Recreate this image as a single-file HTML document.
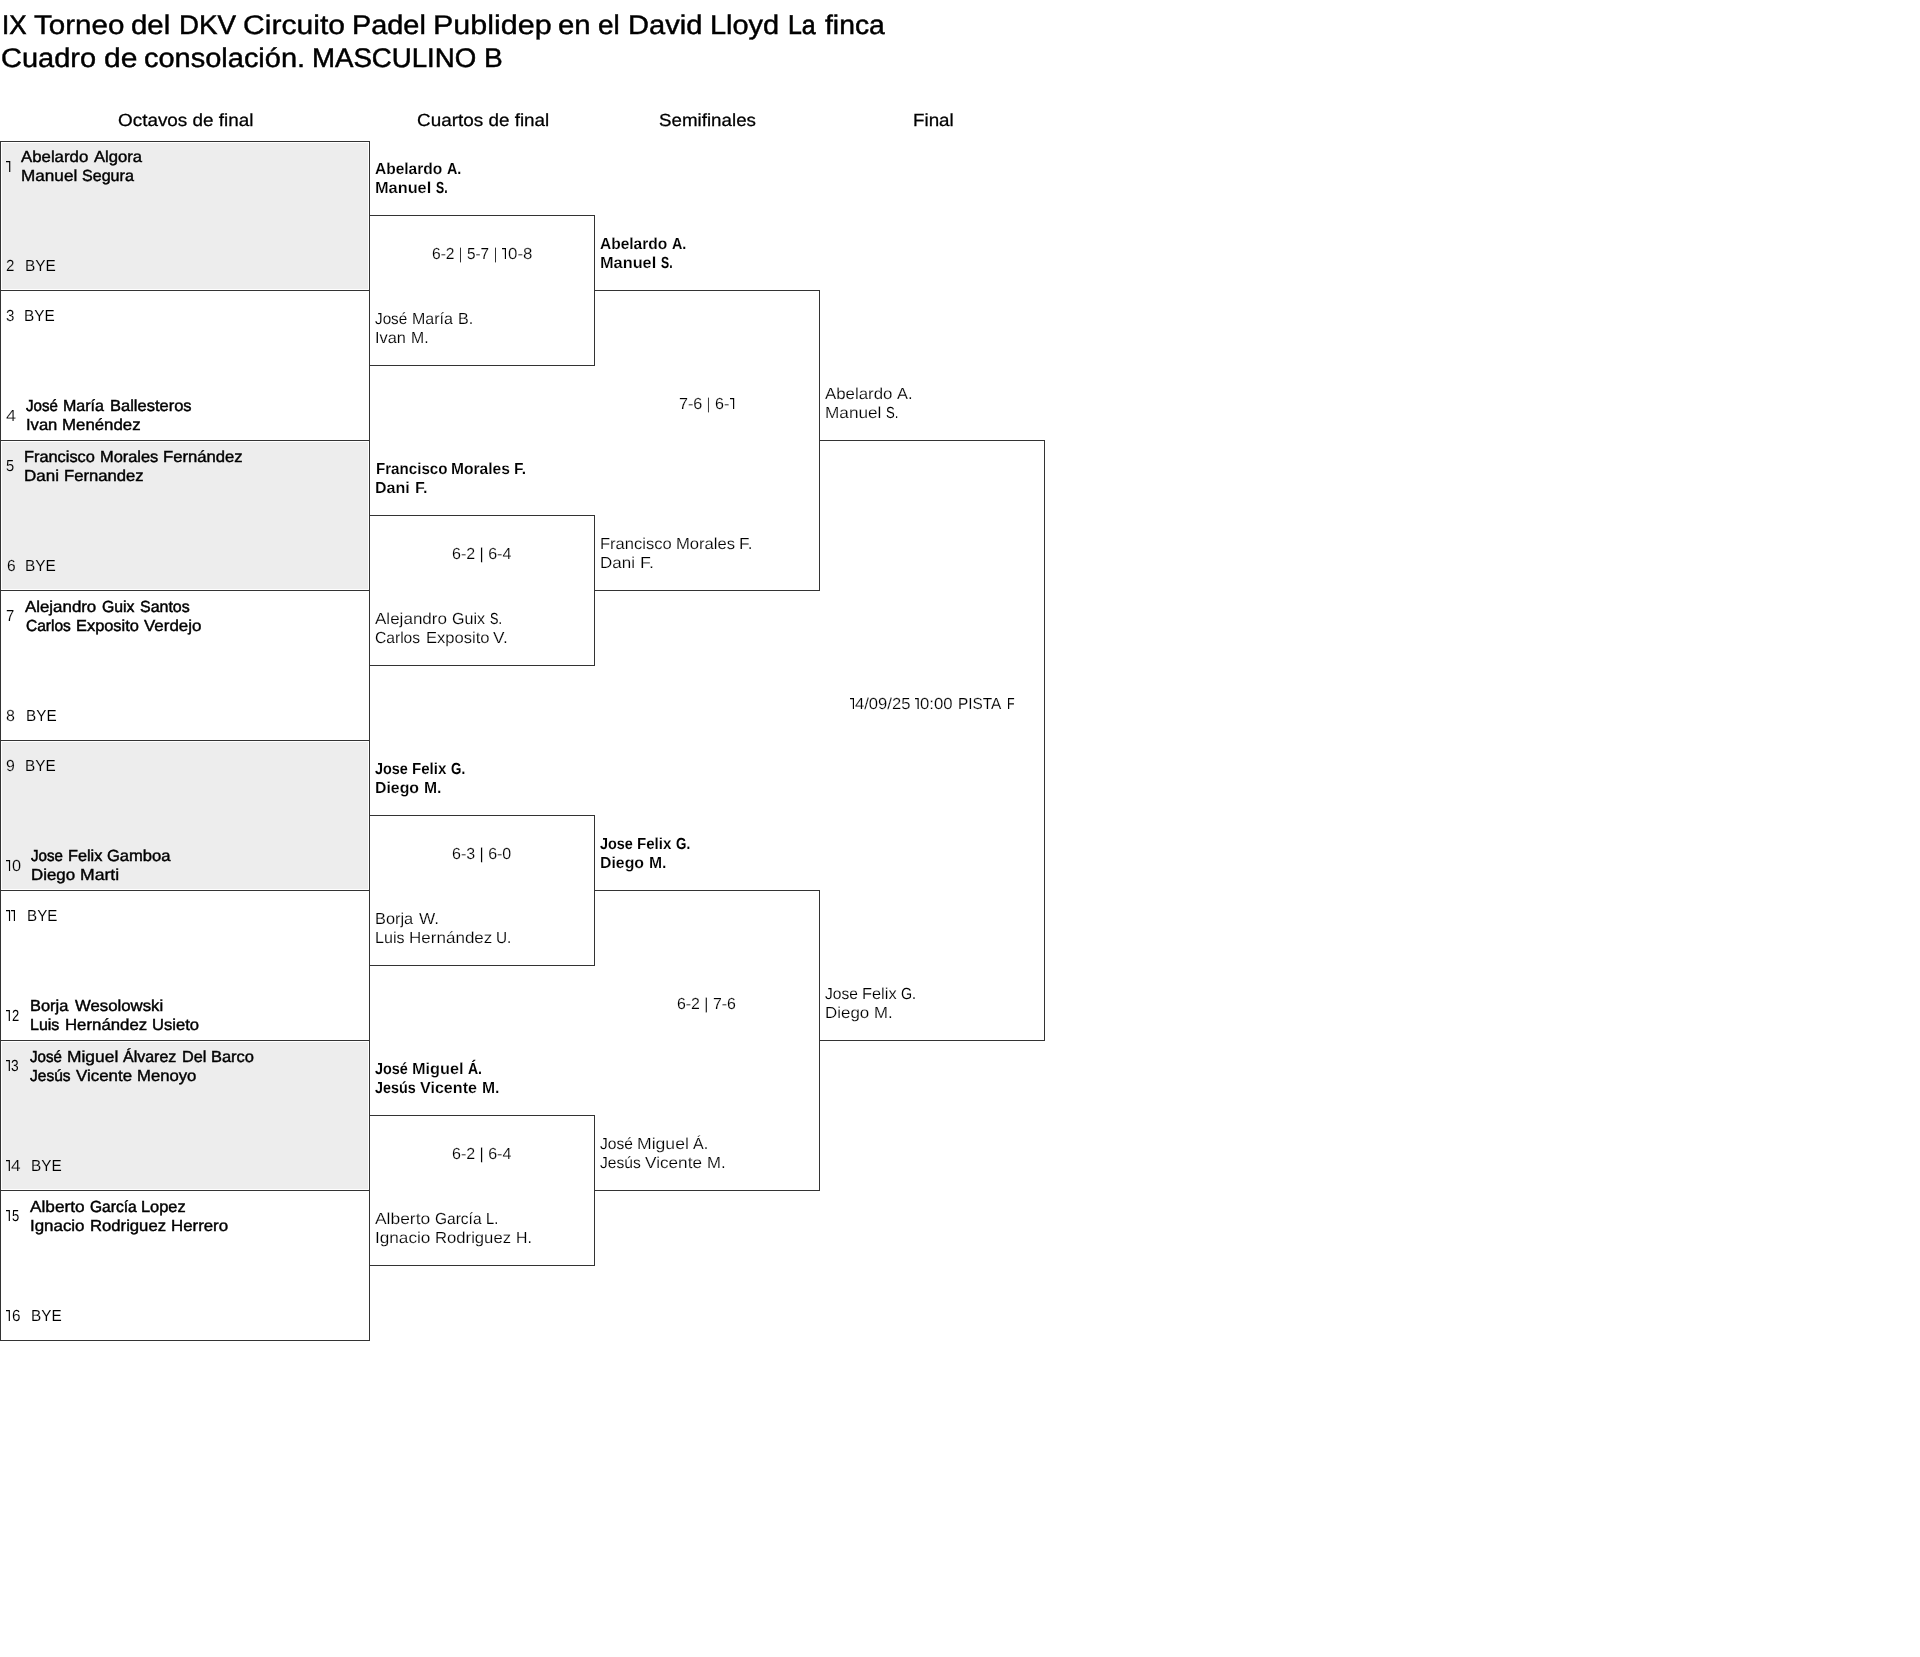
<!DOCTYPE html>
<html lang="es">
<head>
<meta charset="utf-8">
<title>Cuadro de consolación. MASCULINO B</title>
<style>
html,body{margin:0;padding:0;background:#fff;}
body{width:1920px;height:1657px;position:relative;overflow:hidden;font-family:"Liberation Sans",sans-serif;color:#000;}
.g{position:absolute;background:#ededed;}
.h{position:absolute;height:1px;background:#333;}
.v{position:absolute;width:1px;background:#333;}
#tx{position:absolute;left:0;top:0;width:1920px;height:1657px;will-change:transform;}
.x{position:absolute;white-space:nowrap;line-height:1;transform-origin:0 0;text-rendering:geometricPrecision;color:#000;}
.t{font-size:27px;}
.hd{font-size:17.5px;}
.n{font-size:16px;}
.b{font-weight:700;}
.o{position:absolute;overflow:visible;}
</style>
</head>
<body>
<div class="g" style="left:2px;top:143px;width:366px;height:146px"></div>
<div class="g" style="left:2px;top:442px;width:366px;height:147px"></div>
<div class="g" style="left:2px;top:742px;width:366px;height:147px"></div>
<div class="g" style="left:2px;top:1042px;width:366px;height:147px"></div>
<div class="h" style="left:0;top:141px;width:370px"></div>
<div class="h" style="left:0;top:290px;width:370px"></div>
<div class="h" style="left:0;top:440px;width:370px"></div>
<div class="h" style="left:0;top:590px;width:370px"></div>
<div class="h" style="left:0;top:740px;width:370px"></div>
<div class="h" style="left:0;top:890px;width:370px"></div>
<div class="h" style="left:0;top:1040px;width:370px"></div>
<div class="h" style="left:0;top:1190px;width:370px"></div>
<div class="h" style="left:0;top:1340px;width:370px"></div>
<div class="v" style="left:0;top:141px;height:1200px"></div>
<div class="v" style="left:369px;top:141px;height:1200px"></div>
<div class="h" style="left:369px;top:215px;width:226px"></div>
<div class="h" style="left:369px;top:365px;width:226px"></div>
<div class="v" style="left:594px;top:215px;height:151px"></div>
<div class="h" style="left:369px;top:515px;width:226px"></div>
<div class="h" style="left:369px;top:665px;width:226px"></div>
<div class="v" style="left:594px;top:515px;height:151px"></div>
<div class="h" style="left:369px;top:815px;width:226px"></div>
<div class="h" style="left:369px;top:965px;width:226px"></div>
<div class="v" style="left:594px;top:815px;height:151px"></div>
<div class="h" style="left:369px;top:1115px;width:226px"></div>
<div class="h" style="left:369px;top:1265px;width:226px"></div>
<div class="v" style="left:594px;top:1115px;height:151px"></div>
<div class="h" style="left:594px;top:290px;width:226px"></div>
<div class="h" style="left:594px;top:590px;width:226px"></div>
<div class="v" style="left:819px;top:290px;height:301px"></div>
<div class="h" style="left:594px;top:890px;width:226px"></div>
<div class="h" style="left:594px;top:1190px;width:226px"></div>
<div class="v" style="left:819px;top:890px;height:301px"></div>
<div class="h" style="left:819px;top:440px;width:226px"></div>
<div class="h" style="left:819px;top:1040px;width:226px"></div>
<div class="v" style="left:1044px;top:440px;height:601px"></div>
<div id="tx">
<div class="x t" style="left:1.76px;top:12px;-webkit-text-stroke:0.59px #000;transform:scaleX(0.9630)">IX</div>
<div class="x t" style="left:33.83px;top:12px;-webkit-text-stroke:0.42px #000;transform:scaleX(1.0956)">Torneo</div>
<div class="x t" style="left:131.14px;top:12px;-webkit-text-stroke:0.42px #000;transform:scaleX(1.0884)">del</div>
<div class="x t" style="left:178.71px;top:12px;-webkit-text-stroke:0.51px #000;transform:scaleX(1.0274)">DKV</div>
<div class="x t" style="left:242.91px;top:12px;-webkit-text-stroke:0.40px #000;transform:scaleX(1.1156)">Circuito</div>
<div class="x t" style="left:351.51px;top:12px;-webkit-text-stroke:0.46px #000;transform:scaleX(1.0689)">Padel</div>
<div class="x t" style="left:432.66px;top:12px;-webkit-text-stroke:0.38px #000;transform:scaleX(1.1303)">Publidep</div>
<div class="x t" style="left:558.24px;top:12px;-webkit-text-stroke:0.42px #000;transform:scaleX(1.0866)">en</div>
<div class="x t" style="left:598.11px;top:12px;-webkit-text-stroke:0.48px #000;transform:scaleX(1.0363)">el</div>
<div class="x t" style="left:628.09px;top:12px;-webkit-text-stroke:0.45px #000;transform:scaleX(1.0773)">David</div>
<div class="x t" style="left:709.80px;top:12px;-webkit-text-stroke:0.45px #000;transform:scaleX(1.0712)">Lloyd</div>
<div class="x t" style="left:787.57px;top:12px;-webkit-text-stroke:0.67px #000;transform:scaleX(0.9197)">La</div>
<div class="x t" style="left:825.25px;top:12px;-webkit-text-stroke:0.49px #000;transform:scaleX(1.0478)">finca</div>
<div class="x t" style="left:1.07px;top:45px;-webkit-text-stroke:0.45px #000;transform:scaleX(1.0737)">Cuadro</div>
<div class="x t" style="left:103.50px;top:45px;-webkit-text-stroke:0.39px #000;transform:scaleX(1.1124)">de</div>
<div class="x t" style="left:143.67px;top:45px;-webkit-text-stroke:0.46px #000;transform:scaleX(1.0733)">consolación.</div>
<div class="x t" style="left:311.82px;top:45px;-webkit-text-stroke:0.53px #000;transform:scaleX(1.0231)">MASCULINO</div>
<div class="x t" style="left:483.66px;top:45px;-webkit-text-stroke:0.46px #000;transform:scaleX(1.0413)">B</div>
<div class="x hd" style="left:117.84px;top:112px;-webkit-text-stroke:0.26px #000;transform:scaleX(1.0796)">Octavos de final</div>
<div class="x hd" style="left:416.84px;top:112px;-webkit-text-stroke:0.26px #000;transform:scaleX(1.0792)">Cuartos de final</div>
<div class="x hd" style="left:659.34px;top:112px;-webkit-text-stroke:0.27px #000;transform:scaleX(1.0717)">Semifinales</div>
<div class="x hd" style="left:912.87px;top:112px;-webkit-text-stroke:0.26px #000;transform:scaleX(1.0742)">Final</div>
<div class="x n" style="left:5.86px;top:259px;-webkit-text-stroke:0.09px #ededed;transform:scaleX(0.9423)">2</div>
<div class="x n" style="left:5.86px;top:309px;-webkit-text-stroke:0.09px #fff;transform:scaleX(0.9423)">3</div>
<div class="x n" style="left:5.98px;top:409px;-webkit-text-stroke:0.20px #fff;transform:scaleX(1.1368)">4</div>
<div class="x n" style="left:6.07px;top:459px;-webkit-text-stroke:0.07px #ededed;transform:scaleX(0.9180)">5</div>
<div class="x n" style="left:6.55px;top:559px;-webkit-text-stroke:0.10px #ededed;transform:scaleX(0.9666)">6</div>
<div class="x n" style="left:5.96px;top:609px;-webkit-text-stroke:0.08px #fff;transform:scaleX(0.9302)">7</div>
<div class="x n" style="left:6.24px;top:709px;-webkit-text-stroke:0.13px #fff;transform:scaleX(1.0030)">8</div>
<div class="x n" style="left:5.84px;top:759px;-webkit-text-stroke:0.12px #ededed;transform:scaleX(0.9909)">9</div>
<div class="x n" style="left:11.83px;top:859px;-webkit-text-stroke:0.13px #ededed;transform:scaleX(1.0152)">0</div>
<div class="x n" style="left:11.91px;top:1009px;transform:scaleX(0.8089)">2</div>
<div class="x n" style="left:11.29px;top:1059px;transform:scaleX(0.8574)">3</div>
<div class="x n" style="left:11.41px;top:1159px;-webkit-text-stroke:0.17px #ededed;transform:scaleX(1.0760)">4</div>
<div class="x n" style="left:11.91px;top:1209px;transform:scaleX(0.8089)">5</div>
<div class="x n" style="left:11.95px;top:1309px;-webkit-text-stroke:0.09px #fff;transform:scaleX(0.9545)">6</div>
<div class="x n" style="left:24.98px;top:259px;-webkit-text-stroke:0.11px #ededed;transform:scaleX(0.9657)">BYE</div>
<div class="x n" style="left:24.09px;top:309px;-webkit-text-stroke:0.10px #fff;transform:scaleX(0.9590)">BYE</div>
<div class="x n" style="left:24.98px;top:559px;-webkit-text-stroke:0.11px #ededed;transform:scaleX(0.9657)">BYE</div>
<div class="x n" style="left:26.20px;top:709px;-webkit-text-stroke:0.10px #fff;transform:scaleX(0.9556)">BYE</div>
<div class="x n" style="left:25.19px;top:759px;-webkit-text-stroke:0.10px #ededed;transform:scaleX(0.9590)">BYE</div>
<div class="x n" style="left:27.31px;top:909px;-webkit-text-stroke:0.10px #fff;transform:scaleX(0.9488)">BYE</div>
<div class="x n" style="left:31.09px;top:1159px;-webkit-text-stroke:0.10px #ededed;transform:scaleX(0.9590)">BYE</div>
<div class="x n" style="left:31.09px;top:1309px;-webkit-text-stroke:0.10px #fff;transform:scaleX(0.9590)">BYE</div>
<div class="x n" style="left:21.42px;top:150px;-webkit-text-stroke:0.42px #000;transform:scaleX(1.0500)">Abelardo</div>
<div class="x n" style="left:93.72px;top:150px;-webkit-text-stroke:0.43px #000;transform:scaleX(1.0367)">Algora</div>
<div class="x n" style="left:21.14px;top:169px;-webkit-text-stroke:0.40px #000;transform:scaleX(1.0716)">Manuel</div>
<div class="x n" style="left:82.03px;top:169px;-webkit-text-stroke:0.46px #000;transform:scaleX(1.0046)">Segura</div>
<div class="x n" style="left:26.25px;top:399px;-webkit-text-stroke:0.52px #000;transform:scaleX(0.9443)">José</div>
<div class="x n" style="left:63.23px;top:399px;-webkit-text-stroke:0.46px #000;transform:scaleX(1.0009)">María</div>
<div class="x n" style="left:109.70px;top:399px;-webkit-text-stroke:0.44px #000;transform:scaleX(1.0307)">Ballesteros</div>
<div class="x n" style="left:26.39px;top:418px;-webkit-text-stroke:0.43px #000;transform:scaleX(1.0357)">Ivan</div>
<div class="x n" style="left:62.17px;top:418px;-webkit-text-stroke:0.42px #000;transform:scaleX(1.0521)">Menéndez</div>
<div class="x n" style="left:24.46px;top:450px;-webkit-text-stroke:0.45px #000;transform:scaleX(1.0210)">Francisco</div>
<div class="x n" style="left:100.20px;top:450px;-webkit-text-stroke:0.44px #000;transform:scaleX(1.0248)">Morales</div>
<div class="x n" style="left:163.18px;top:450px;-webkit-text-stroke:0.43px #000;transform:scaleX(1.0418)">Fernández</div>
<div class="x n" style="left:24.40px;top:469px;-webkit-text-stroke:0.41px #000;transform:scaleX(1.0627)">Dani</div>
<div class="x n" style="left:63.93px;top:469px;-webkit-text-stroke:0.43px #000;transform:scaleX(1.0405)">Fernandez</div>
<div class="x n" style="left:25.42px;top:600px;-webkit-text-stroke:0.42px #000;transform:scaleX(1.0540)">Alejandro</div>
<div class="x n" style="left:102.23px;top:600px;-webkit-text-stroke:0.47px #000;transform:scaleX(0.9889)">Guix</div>
<div class="x n" style="left:140.03px;top:600px;-webkit-text-stroke:0.47px #000;transform:scaleX(0.9984)">Santos</div>
<div class="x n" style="left:25.94px;top:619px;-webkit-text-stroke:0.50px #000;transform:scaleX(0.9694)">Carlos</div>
<div class="x n" style="left:76.00px;top:619px;-webkit-text-stroke:0.45px #000;transform:scaleX(1.0244)">Exposito</div>
<div class="x n" style="left:143.72px;top:619px;-webkit-text-stroke:0.41px #000;transform:scaleX(1.0588)">Verdejo</div>
<div class="x n" style="left:31.25px;top:849px;-webkit-text-stroke:0.52px #000;transform:scaleX(0.9443)">Jose</div>
<div class="x n" style="left:68.21px;top:849px;-webkit-text-stroke:0.45px #000;transform:scaleX(1.0172)">Felix</div>
<div class="x n" style="left:107.23px;top:849px;-webkit-text-stroke:0.44px #000;transform:scaleX(1.0338)">Gamboa</div>
<div class="x n" style="left:31.17px;top:868px;-webkit-text-stroke:0.42px #000;transform:scaleX(1.0527)">Diego</div>
<div class="x n" style="left:80.31px;top:868px;-webkit-text-stroke:0.38px #000;transform:scaleX(1.0996)">Marti</div>
<div class="x n" style="left:30.40px;top:999px;-webkit-text-stroke:0.44px #000;transform:scaleX(1.0246)">Borja</div>
<div class="x n" style="left:74.72px;top:999px;-webkit-text-stroke:0.43px #000;transform:scaleX(1.0471)">Wesolowski</div>
<div class="x n" style="left:30.43px;top:1018px;-webkit-text-stroke:0.46px #000;transform:scaleX(0.9996)">Luis</div>
<div class="x n" style="left:64.67px;top:1018px;-webkit-text-stroke:0.42px #000;transform:scaleX(1.0489)">Hernández</div>
<div class="x n" style="left:151.69px;top:1018px;-webkit-text-stroke:0.43px #000;transform:scaleX(1.0360)">Usieto</div>
<div class="x n" style="left:30.25px;top:1050px;-webkit-text-stroke:0.52px #000;transform:scaleX(0.9443)">José</div>
<div class="x n" style="left:67.22px;top:1050px;-webkit-text-stroke:0.39px #000;transform:scaleX(1.0878)">Miguel</div>
<div class="x n" style="left:123.33px;top:1050px;-webkit-text-stroke:0.47px #000;transform:scaleX(0.9996)">Álvarez</div>
<div class="x n" style="left:181.96px;top:1050px;-webkit-text-stroke:0.44px #000;transform:scaleX(1.0155)">Del</div>
<div class="x n" style="left:211.10px;top:1050px;-webkit-text-stroke:0.44px #000;transform:scaleX(1.0281)">Barco</div>
<div class="x n" style="left:30.24px;top:1069px;-webkit-text-stroke:0.50px #000;transform:scaleX(0.9694)">Jesús</div>
<div class="x n" style="left:75.82px;top:1069px;-webkit-text-stroke:0.42px #000;transform:scaleX(1.0570)">Vicente</div>
<div class="x n" style="left:137.28px;top:1069px;-webkit-text-stroke:0.43px #000;transform:scaleX(1.0416)">Menoyo</div>
<div class="x n" style="left:30.31px;top:1200px;-webkit-text-stroke:0.40px #000;transform:scaleX(1.0763)">Alberto</div>
<div class="x n" style="left:89.94px;top:1200px;-webkit-text-stroke:0.50px #000;transform:scaleX(0.9709)">García</div>
<div class="x n" style="left:141.20px;top:1200px;-webkit-text-stroke:0.44px #000;transform:scaleX(1.0247)">Lopez</div>
<div class="x n" style="left:30.36px;top:1219px;-webkit-text-stroke:0.42px #000;transform:scaleX(1.0565)">Ignacio</div>
<div class="x n" style="left:89.98px;top:1219px;-webkit-text-stroke:0.43px #000;transform:scaleX(1.0420)">Rodriguez</div>
<div class="x n" style="left:170.97px;top:1219px;-webkit-text-stroke:0.42px #000;transform:scaleX(1.0529)">Herrero</div>
<div class="x n b" style="left:375.13px;top:162px;-webkit-text-stroke:0.14px #fff;transform:scaleX(0.9693)">Abelardo</div>
<div class="x n b" style="left:447.08px;top:162px;-webkit-text-stroke:0.05px #fff;transform:scaleX(0.8963)">A.</div>
<div class="x n b" style="left:375.13px;top:181px;-webkit-text-stroke:0.19px #fff;transform:scaleX(1.0199)">Manuel</div>
<div class="x n b" style="left:436.27px;top:181px;-webkit-text-stroke:0.05px #000;transform:scaleX(0.7641)">S.</div>
<div class="x n" style="left:431.55px;top:247px;-webkit-text-stroke:0.11px #fff;transform:scaleX(0.9734)">6-2</div>
<div class="x n" style="left:459.04px;top:247px;-webkit-text-stroke:0.08px #fff;transform:scaleX(0.7310)">|</div>
<div class="x n" style="left:466.95px;top:247px;-webkit-text-stroke:0.10px #fff;transform:scaleX(0.9556)">5-7</div>
<div class="x n" style="left:494.04px;top:247px;-webkit-text-stroke:0.08px #fff;transform:scaleX(0.7310)">|</div>
<div class="x n" style="left:507.51px;top:247px;-webkit-text-stroke:0.17px #fff;transform:scaleX(1.0537)">0-8</div>
<div class="x n" style="left:374.95px;top:312px;-webkit-text-stroke:0.10px #fff;transform:scaleX(0.9542)">José</div>
<div class="x n" style="left:412.24px;top:312px;-webkit-text-stroke:0.13px #fff;transform:scaleX(0.9983)">María</div>
<div class="x n" style="left:458.13px;top:312px;-webkit-text-stroke:0.13px #fff;transform:scaleX(1.0047)">B.</div>
<div class="x n" style="left:375.16px;top:331px;-webkit-text-stroke:0.14px #fff;transform:scaleX(1.0195)">Ivan</div>
<div class="x n" style="left:411.05px;top:331px;-webkit-text-stroke:0.12px #fff;transform:scaleX(0.9863)">M.</div>
<div class="x n b" style="left:375.50px;top:462px;-webkit-text-stroke:0.11px #fff;transform:scaleX(0.9451)">Francisco</div>
<div class="x n b" style="left:451.06px;top:462px;-webkit-text-stroke:0.14px #fff;transform:scaleX(0.9743)">Morales</div>
<div class="x n b" style="left:514.36px;top:462px;-webkit-text-stroke:0.13px #fff;transform:scaleX(0.9753)">F.</div>
<div class="x n b" style="left:375.42px;top:481px;-webkit-text-stroke:0.17px #fff;transform:scaleX(1.0012)">Dani</div>
<div class="x n b" style="left:414.91px;top:481px;-webkit-text-stroke:0.16px #fff;transform:scaleX(1.0056)">F.</div>
<div class="x n" style="left:451.93px;top:547px;-webkit-text-stroke:0.13px #fff;transform:scaleX(1.0006)">6-2 | 6-4</div>
<div class="x n" style="left:375.11px;top:612px;-webkit-text-stroke:0.17px #fff;transform:scaleX(1.0647)">Alejandro</div>
<div class="x n" style="left:451.63px;top:612px;-webkit-text-stroke:0.13px #fff;transform:scaleX(1.0042)">Guix</div>
<div class="x n" style="left:489.62px;top:612px;-webkit-text-stroke:0.05px #000;transform:scaleX(0.7873)">S.</div>
<div class="x n" style="left:375.34px;top:631px;-webkit-text-stroke:0.12px #fff;transform:scaleX(0.9757)">Carlos</div>
<div class="x n" style="left:425.58px;top:631px;-webkit-text-stroke:0.16px #fff;transform:scaleX(1.0363)">Exposito</div>
<div class="x n" style="left:493.21px;top:631px;-webkit-text-stroke:0.17px #fff;transform:scaleX(1.0766)">V.</div>
<div class="x n b" style="left:374.98px;top:762px;-webkit-text-stroke:0.05px #fff;transform:scaleX(0.9010)">Jose</div>
<div class="x n b" style="left:412.31px;top:762px;-webkit-text-stroke:0.10px #fff;transform:scaleX(0.9419)">Felix</div>
<div class="x n b" style="left:451.26px;top:762px;-webkit-text-stroke:0.03px #000;transform:scaleX(0.8344)">G.</div>
<div class="x n b" style="left:375.43px;top:781px;-webkit-text-stroke:0.16px #fff;transform:scaleX(0.9905)">Diego</div>
<div class="x n b" style="left:424.35px;top:781px;-webkit-text-stroke:0.14px #fff;transform:scaleX(0.9791)">M.</div>
<div class="x n" style="left:452.43px;top:847px;-webkit-text-stroke:0.13px #fff;transform:scaleX(0.9989)">6-3 | 6-0</div>
<div class="x n" style="left:375.16px;top:912px;-webkit-text-stroke:0.15px #fff;transform:scaleX(1.0205)">Borja</div>
<div class="x n" style="left:419.11px;top:912px;-webkit-text-stroke:0.18px #fff;transform:scaleX(1.0737)">W.</div>
<div class="x n" style="left:375.18px;top:931px;-webkit-text-stroke:0.13px #fff;transform:scaleX(1.0047)">Luis</div>
<div class="x n" style="left:408.84px;top:931px;-webkit-text-stroke:0.18px #fff;transform:scaleX(1.0649)">Hernández</div>
<div class="x n" style="left:496.49px;top:931px;-webkit-text-stroke:0.10px #fff;transform:scaleX(0.9588)">U.</div>
<div class="x n b" style="left:374.98px;top:1062px;-webkit-text-stroke:0.05px #fff;transform:scaleX(0.9010)">José</div>
<div class="x n b" style="left:412.19px;top:1062px;-webkit-text-stroke:0.18px #fff;transform:scaleX(1.0177)">Miguel</div>
<div class="x n b" style="left:467.89px;top:1062px;transform:scaleX(0.8755)">Á.</div>
<div class="x n b" style="left:374.98px;top:1081px;-webkit-text-stroke:0.05px #fff;transform:scaleX(0.8961)">Jesús</div>
<div class="x n b" style="left:419.91px;top:1081px;-webkit-text-stroke:0.17px #fff;transform:scaleX(1.0061)">Vicente</div>
<div class="x n b" style="left:481.85px;top:1081px;-webkit-text-stroke:0.14px #fff;transform:scaleX(0.9791)">M.</div>
<div class="x n" style="left:451.93px;top:1147px;-webkit-text-stroke:0.13px #fff;transform:scaleX(1.0006)">6-2 | 6-4</div>
<div class="x n" style="left:375.00px;top:1212px;-webkit-text-stroke:0.19px #fff;transform:scaleX(1.0887)">Alberto</div>
<div class="x n" style="left:434.55px;top:1212px;-webkit-text-stroke:0.11px #fff;transform:scaleX(0.9686)">García</div>
<div class="x n" style="left:486.36px;top:1212px;-webkit-text-stroke:0.07px #fff;transform:scaleX(0.9139)">L.</div>
<div class="x n" style="left:374.83px;top:1231px;-webkit-text-stroke:0.18px #fff;transform:scaleX(1.0729)">Ignacio</div>
<div class="x n" style="left:434.87px;top:1231px;-webkit-text-stroke:0.16px #fff;transform:scaleX(1.0422)">Rodriguez</div>
<div class="x n" style="left:515.95px;top:1231px;-webkit-text-stroke:0.12px #fff;transform:scaleX(0.9901)">H.</div>
<div class="x n b" style="left:600.13px;top:237px;-webkit-text-stroke:0.14px #fff;transform:scaleX(0.9693)">Abelardo</div>
<div class="x n b" style="left:672.08px;top:237px;-webkit-text-stroke:0.05px #fff;transform:scaleX(0.8963)">A.</div>
<div class="x n b" style="left:600.13px;top:256px;-webkit-text-stroke:0.19px #fff;transform:scaleX(1.0199)">Manuel</div>
<div class="x n b" style="left:661.27px;top:256px;-webkit-text-stroke:0.05px #000;transform:scaleX(0.7641)">S.</div>
<div class="x n" style="left:678.93px;top:397px;-webkit-text-stroke:0.14px #fff;transform:scaleX(1.0091)">7-6</div>
<div class="x n" style="left:707.19px;top:397px;-webkit-text-stroke:0.08px #fff;transform:scaleX(0.6788)">|</div>
<div class="x n" style="left:715.13px;top:397px;-webkit-text-stroke:0.13px #fff;transform:scaleX(1.0023)">6-</div>
<div class="x n" style="left:600.39px;top:537px;-webkit-text-stroke:0.16px #fff;transform:scaleX(1.0337)">Francisco</div>
<div class="x n" style="left:675.98px;top:537px;-webkit-text-stroke:0.16px #fff;transform:scaleX(1.0386)">Morales</div>
<div class="x n" style="left:739.23px;top:537px;-webkit-text-stroke:0.17px #fff;transform:scaleX(1.0787)">F.</div>
<div class="x n" style="left:600.35px;top:556px;-webkit-text-stroke:0.17px #fff;transform:scaleX(1.0616)">Dani</div>
<div class="x n" style="left:639.78px;top:556px;-webkit-text-stroke:0.19px #fff;transform:scaleX(1.1113)">F.</div>
<div class="x n b" style="left:599.98px;top:837px;-webkit-text-stroke:0.05px #fff;transform:scaleX(0.9010)">Jose</div>
<div class="x n b" style="left:637.31px;top:837px;-webkit-text-stroke:0.10px #fff;transform:scaleX(0.9419)">Felix</div>
<div class="x n b" style="left:676.26px;top:837px;-webkit-text-stroke:0.03px #000;transform:scaleX(0.8344)">G.</div>
<div class="x n b" style="left:600.43px;top:856px;-webkit-text-stroke:0.16px #fff;transform:scaleX(0.9905)">Diego</div>
<div class="x n b" style="left:649.35px;top:856px;-webkit-text-stroke:0.14px #fff;transform:scaleX(0.9791)">M.</div>
<div class="x n" style="left:677.44px;top:997px;-webkit-text-stroke:0.13px #fff;transform:scaleX(0.9921)">6-2 | 7-6</div>
<div class="x n" style="left:599.94px;top:1137px;-webkit-text-stroke:0.11px #fff;transform:scaleX(0.9738)">José</div>
<div class="x n" style="left:637.09px;top:1137px;-webkit-text-stroke:0.19px #fff;transform:scaleX(1.0995)">Miguel</div>
<div class="x n" style="left:692.83px;top:1137px;-webkit-text-stroke:0.13px #fff;transform:scaleX(1.0044)">Á.</div>
<div class="x n" style="left:599.94px;top:1156px;-webkit-text-stroke:0.12px #fff;transform:scaleX(0.9765)">Jesús</div>
<div class="x n" style="left:644.90px;top:1156px;-webkit-text-stroke:0.18px #fff;transform:scaleX(1.0736)">Vicente</div>
<div class="x n" style="left:706.77px;top:1156px;-webkit-text-stroke:0.16px #fff;transform:scaleX(1.0448)">M.</div>
<div class="x n" style="left:825.11px;top:387px;-webkit-text-stroke:0.17px #fff;transform:scaleX(1.0519)">Abelardo</div>
<div class="x n" style="left:897.02px;top:387px;-webkit-text-stroke:0.15px #fff;transform:scaleX(1.0277)">A.</div>
<div class="x n" style="left:825.08px;top:406px;-webkit-text-stroke:0.18px #fff;transform:scaleX(1.0751)">Manuel</div>
<div class="x n" style="left:886.26px;top:406px;transform:scaleX(0.8221)">S.</div>
<div class="x n" style="left:854.72px;top:697px;-webkit-text-stroke:0.16px #fff;transform:scaleX(1.0370)">4/09/25</div>
<div class="x n" style="left:920.32px;top:697px;-webkit-text-stroke:0.16px #fff;transform:scaleX(1.0424)">0:00</div>
<div class="x n" style="left:957.89px;top:697px;-webkit-text-stroke:0.11px #fff;transform:scaleX(0.9623)">PISTA</div>
<div class="x n" style="left:1006.84px;top:697px;-webkit-text-stroke:0.05px #000;transform:scaleX(0.7739)">F</div>
<div class="x n" style="left:824.94px;top:987px;-webkit-text-stroke:0.11px #fff;transform:scaleX(0.9738)">Jose</div>
<div class="x n" style="left:862.20px;top:987px;-webkit-text-stroke:0.15px #fff;transform:scaleX(1.0235)">Felix</div>
<div class="x n" style="left:901.23px;top:987px;-webkit-text-stroke:0.05px #fff;transform:scaleX(0.8931)">G.</div>
<div class="x n" style="left:825.35px;top:1006px;-webkit-text-stroke:0.17px #fff;transform:scaleX(1.0580)">Diego</div>
<div class="x n" style="left:874.27px;top:1006px;-webkit-text-stroke:0.16px #fff;transform:scaleX(1.0448)">M.</div>
</div>
<svg class="o" style="left:5.90px;top:160.90px" width="4.30" height="11.00" viewBox="0 0 4.30 11.00"><path d="M0 0.575H3.725V11.00" fill="none" stroke="#000" stroke-width="1.15"/></svg>
<svg class="o" style="left:5.90px;top:859.90px" width="4.10" height="11.00" viewBox="0 0 4.10 11.00"><path d="M0 0.575H3.525V11.00" fill="none" stroke="#000" stroke-width="1.15"/></svg>
<svg class="o" style="left:5.90px;top:909.90px" width="4.10" height="11.00" viewBox="0 0 4.10 11.00"><path d="M0 0.575H3.525V11.00" fill="none" stroke="#000" stroke-width="1.15"/></svg>
<svg class="o" style="left:10.90px;top:909.90px" width="4.00" height="11.00" viewBox="0 0 4.00 11.00"><path d="M0 0.575H3.425V11.00" fill="none" stroke="#000" stroke-width="1.15"/></svg>
<svg class="o" style="left:5.90px;top:1009.90px" width="3.90" height="11.00" viewBox="0 0 3.90 11.00"><path d="M0 0.575H3.325V11.00" fill="none" stroke="#000" stroke-width="1.15"/></svg>
<svg class="o" style="left:5.90px;top:1059.90px" width="3.90" height="11.00" viewBox="0 0 3.90 11.00"><path d="M0 0.575H3.325V11.00" fill="none" stroke="#000" stroke-width="1.15"/></svg>
<svg class="o" style="left:5.90px;top:1159.90px" width="3.90" height="11.00" viewBox="0 0 3.90 11.00"><path d="M0 0.575H3.325V11.00" fill="none" stroke="#000" stroke-width="1.15"/></svg>
<svg class="o" style="left:5.90px;top:1209.90px" width="3.90" height="11.00" viewBox="0 0 3.90 11.00"><path d="M0 0.575H3.325V11.00" fill="none" stroke="#000" stroke-width="1.15"/></svg>
<svg class="o" style="left:5.90px;top:1309.90px" width="3.90" height="11.00" viewBox="0 0 3.90 11.00"><path d="M0 0.575H3.325V11.00" fill="none" stroke="#000" stroke-width="1.15"/></svg>
<svg class="o" style="left:501.90px;top:247.90px" width="4.00" height="11.00" viewBox="0 0 4.00 11.00"><path d="M0 0.575H3.425V11.00" fill="none" stroke="#000" stroke-width="1.15"/></svg>
<svg class="o" style="left:729.80px;top:397.90px" width="4.20" height="11.00" viewBox="0 0 4.20 11.00"><path d="M0 0.575H3.625V11.00" fill="none" stroke="#000" stroke-width="1.15"/></svg>
<svg class="o" style="left:849.90px;top:697.90px" width="4.00" height="11.00" viewBox="0 0 4.00 11.00"><path d="M0 0.575H3.425V11.00" fill="none" stroke="#000" stroke-width="1.15"/></svg>
<svg class="o" style="left:915.30px;top:697.90px" width="3.70" height="11.00" viewBox="0 0 3.70 11.00"><path d="M0 0.575H3.125V11.00" fill="none" stroke="#000" stroke-width="1.15"/></svg>
</body>
</html>
